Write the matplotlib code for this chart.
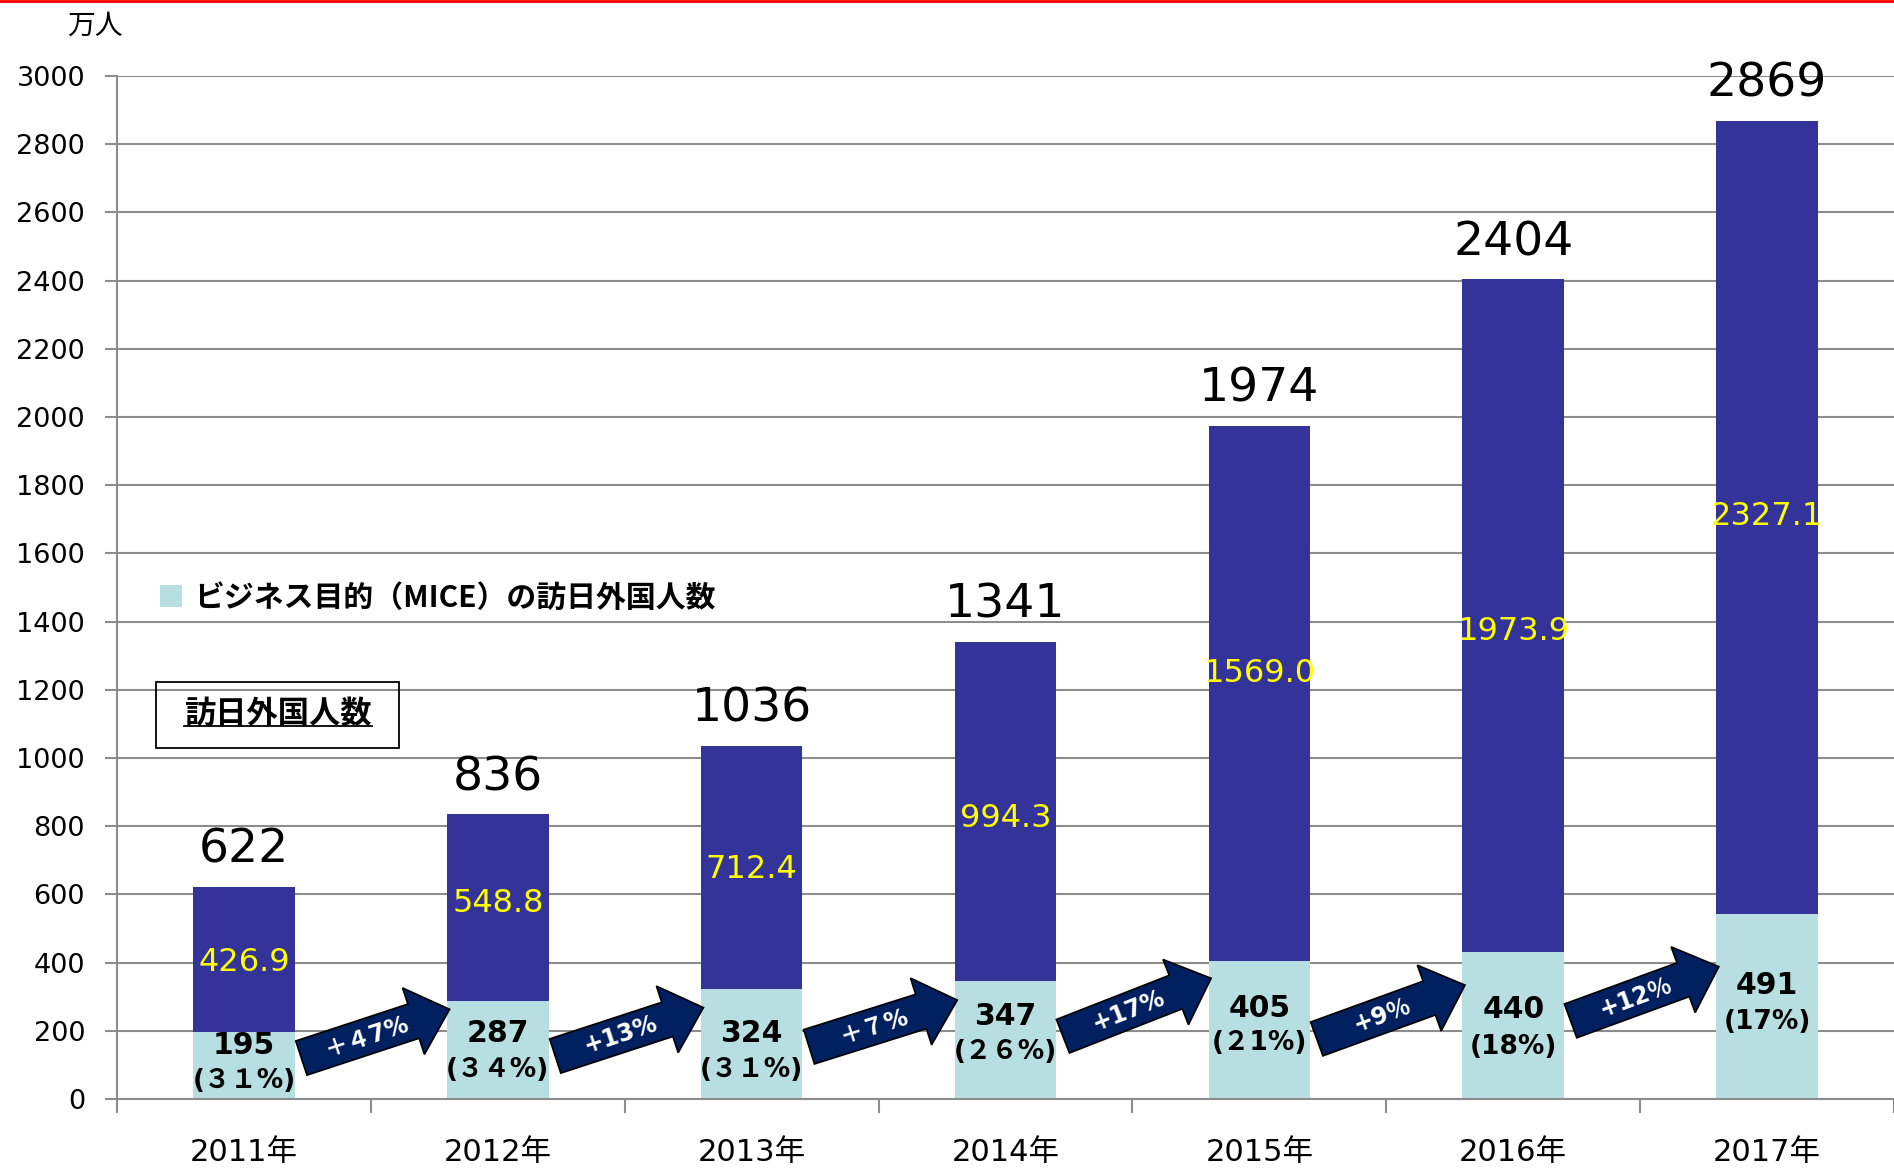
import matplotlib.pyplot as plt
import numpy as np
from matplotlib.patches import Polygon, Rectangle
from matplotlib.lines import Line2D
from matplotlib.transforms import IdentityTransform

# data (万人)
years = ['2011年', '2012年', '2013年', '2014年', '2015年', '2016年', '2017年']
totals = [622, 836, 1036, 1341, 1974, 2404, 2869]
others = [426.9, 548.8, 712.4, 994.3, 1569.0, 1973.9, 2327.1]
mice = [195, 287, 324, 347, 405, 440, 491]
mice_share = ['(３１%)', '(３４%)', '(３１%)', '(２６%)', '(２1%)', '(18%)', '(17%)']
growth = ['＋４7%', '+13%', '＋７%', '+17%', '+9％', '+12％']

# label / arrow placement (data units)
other_label_y = [400, 574, 673, 822, 1247, 1371, 1707]
mice_label_y = [156, 191, 191, 241, 266, 262, 333]
share_label_y = [53, 85, 85, 138, 163, 152, 227]
arrow_tail_y = [120, 126, 153, 184, 176, 229]
arrow_tip_y = [263, 268, 290, 354, 334, 388]

JP = ['Noto Sans CJK JP', 'DejaVu Sans']
LAT = ['DejaVu Sans', 'Noto Sans CJK JP']
plt.rcParams['font.family'] = LAT

c_top = '#333399'
c_low = '#B7DFE2'
c_arrow = '#002060'
c_grid = '#8C8C8C'

fig = plt.figure(figsize=(18.94, 11.75), dpi=100)
ax = fig.add_axes([0.0618, 0.0647, 0.9382, 0.8706])

x = np.arange(len(years))
base = [t - o for t, o in zip(totals, others)]
b_low = ax.bar(x, base, width=0.4, color=c_low, zorder=2, label='ビジネス目的（MICE）の訪日外国人数')
ax.bar(x, others, width=0.4, bottom=base, color=c_top, zorder=2)

ax.set_xlim(-0.5, 6.5)
ax.set_ylim(0, 3000)
ax.set_yticks(np.arange(0, 3001, 200))
ax.yaxis.grid(True, color=c_grid, lw=1.5, zorder=0)
ax.tick_params(axis='y', length=9, width=1.5, color=c_grid, pad=14, labelsize=19.5)
ax.set_xticks(np.arange(-0.5, 6.6, 1))
ax.set_xticklabels([])
ax.set_xticks(x, minor=True)
ax.set_xticklabels(years, minor=True, fontsize=22)
ax.tick_params(axis='x', which='major', length=10, width=1.5, color=c_grid)
ax.tick_params(axis='x', which='minor', length=0, pad=28)
for s in ['top', 'right']:
    ax.spines[s].set_visible(False)
for s in ['left', 'bottom']:
    ax.spines[s].set_color(c_grid)
    ax.spines[s].set_linewidth(1.5)

for i in range(len(years)):
    ax.annotate(str(totals[i]), (x[i], totals[i]), xytext=(0, 10), textcoords='offset points',
                ha='center', va='bottom', fontsize=34, clip_on=False, zorder=5)
    ax.text(x[i], other_label_y[i], f'{others[i]:.1f}', ha='center', va='center',
            color='#FFFF00', fontsize=23, zorder=5)
    ax.text(x[i], mice_label_y[i], str(mice[i]), ha='center', va='center',
            fontsize=21.5, fontweight='bold', zorder=5)
    ax.text(x[i], share_label_y[i], mice_share[i], ha='center', va='center',
            fontsize=19, fontweight='bold', zorder=5)

# growth arrows, built in pixel space so the shape isn't skewed
hw, hh, hl = 18, 35, 38
for i in range(len(growth)):
    x0, x1 = x[i] + 0.226, x[i] + 0.81
    p0 = ax.transData.transform((x0, arrow_tail_y[i]))
    p1 = ax.transData.transform((x1, arrow_tip_y[i]))
    d = p1 - p0
    u = d / np.hypot(*d)
    n = np.array([-u[1], u[0]])
    b = p1 - u * hl
    pts = [p0 + n * hw, b + n * hw, b + n * hh, p1, b - n * hh, b - n * hw, p0 - n * hw]
    ax.add_artist(Polygon(pts, closed=True, transform=IdentityTransform(), facecolor=c_arrow,
                          edgecolor='black', lw=1.2, zorder=6, clip_on=False))
    ang = np.degrees(np.arctan2(d[1], d[0]))
    tx = x0 + 0.44 * (x1 - x0)
    ty = arrow_tail_y[i] + 0.44 * (arrow_tip_y[i] - arrow_tail_y[i])
    ax.text(tx, ty, growth[i], rotation=ang, rotation_mode='anchor', ha='center', va='center',
            color='white', fontsize=17, fontweight='bold', zorder=7)

# legend + boxed caption
ax.legend(handles=[b_low], loc='center left', bbox_to_anchor=(0.024, 0.49), frameon=False,
          handlelength=0.75, handleheight=0.75, handletextpad=0.4, borderpad=0, borderaxespad=0,
          prop={'family': JP, 'weight': 'bold', 'size': 21.5})
ax.add_patch(Rectangle((0.0219, 0.343), 0.1367, 0.0645, transform=ax.transAxes, fill=False,
                       edgecolor='black', lw=1.3, zorder=5))
cap = ax.text(0.0906, 0.376, '訪日外国人数', transform=ax.transAxes, ha='center', va='center',
              fontsize=22.5, fontweight='bold', family=JP, zorder=6)
fig.canvas.draw()
bb = cap.get_window_extent().transformed(ax.transAxes.inverted())
ax.plot([bb.x0, bb.x1], [0.3646, 0.3646], transform=ax.transAxes, color='black', lw=1.3, zorder=6)

fig.text(0.05, 0.978, '万人', fontsize=20, family=JP, ha='center', va='center')
fig.add_artist(Line2D([0, 1], [0.999, 0.999], color='red', lw=2))

fig.savefig('out.png', dpi=100)
